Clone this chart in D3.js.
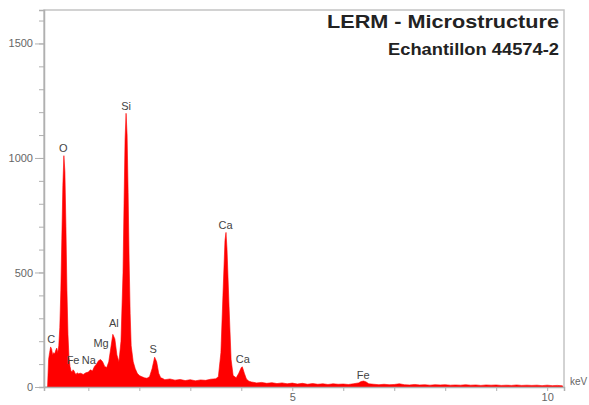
<!DOCTYPE html>
<html>
<head>
<meta charset="utf-8">
<script src="https://cdn.jsdelivr.net/npm/d3@7"></script>
<style>
  body { margin: 0; background: #fff; }
  svg text { font-family: "Liberation Sans", Arial, sans-serif; }
</style>
</head>
<body>
<svg id="chart" width="589" height="405"></svg>
<script>
// spectrum (energy in keV, counts)
const spectrumKeV = [
  0.20, 0.22, 0.24, 0.26, 0.28, 0.30, 0.32, 0.34, 0.36, 0.38,
  0.40, 0.42, 0.44, 0.46, 0.48, 0.50, 0.52, 0.54, 0.56, 0.58,
  0.60, 0.62, 0.64, 0.66, 0.68, 0.70, 0.72, 0.74, 0.76, 0.78,
  0.80, 0.85, 0.90, 0.95, 1.00, 1.04, 1.08, 1.12, 1.16, 1.20,
  1.24, 1.28, 1.32, 1.36, 1.40, 1.44, 1.48, 1.52, 1.56, 1.60,
  1.64, 1.68, 1.70, 1.72, 1.74, 1.76, 1.78, 1.80, 1.82, 1.84,
  1.88, 1.92, 1.96, 2.00, 2.05, 2.10, 2.15, 2.20, 2.25, 2.30,
  2.34, 2.38, 2.42, 2.45, 2.50, 2.60, 2.70, 2.80, 2.90, 3.00,
  3.10, 3.20, 3.30, 3.40, 3.50, 3.55, 3.60, 3.64, 3.68, 3.70,
  3.72, 3.76, 3.80, 3.84, 3.90, 3.95, 4.00, 4.02, 4.06, 4.10,
  4.15, 4.20, 4.30, 4.40, 4.50, 4.60, 4.70, 4.80, 4.90, 5.00,
  5.10, 5.20, 5.30, 5.40, 5.50, 5.60, 5.70, 5.80, 5.90, 6.00,
  6.10, 6.20, 6.30, 6.35, 6.40, 6.45, 6.50, 6.60, 6.70, 6.80,
  6.90, 7.00, 7.10, 7.20, 7.30, 7.40, 7.50, 7.60, 7.70, 7.80,
  7.90, 8.00, 8.10, 8.20, 8.30, 8.40, 8.50, 8.60, 8.70, 8.80,
  8.90, 9.00, 9.10, 9.20, 9.30, 9.40, 9.50, 9.60, 9.70, 9.80,
  9.90, 10.00, 10.10, 10.20, 10.30
];
const spectrumCounts = [
  0, 120, 150, 175, 165, 140, 150, 145, 160, 170,
  150, 180, 260, 420, 650, 880, 1010, 940, 700, 420,
  230, 130, 90, 70, 65, 75, 70, 60, 55, 62,
  58, 60, 55, 62, 65, 75, 70, 90, 100, 115,
  120, 110, 90, 85, 110, 170, 230, 210, 140, 110,
  200, 500, 800, 1080, 1195, 1100, 850, 550, 320, 180,
  110, 80, 60, 50, 45, 40, 38, 45, 80, 130,
  110, 60, 40, 38, 32, 35, 30, 33, 28, 32,
  27, 31, 29, 34, 36, 45, 150, 400, 640, 675,
  600, 350, 120, 50, 40, 60, 85, 88, 60, 35,
  25, 22, 18, 20, 16, 19, 15, 18, 14, 17,
  13, 16, 12, 15, 12, 14, 11, 14, 12, 13,
  11, 14, 18, 24, 26, 22, 14, 12, 10, 12,
  10, 11, 14, 10, 9, 11, 9, 10, 8, 10,
  9, 10, 8, 9, 8, 10, 8, 9, 7, 9,
  8, 9, 7, 8, 7, 9, 7, 8, 7, 8,
  6, 8, 6, 7, 5
];

// peak labels: element, energy (keV), count where the label sits
const peakNames  = ["C", "O", "Fe", "Na", "Mg", "Al", "Si", "S", "Ca", "Ca", "Fe"];
const peakKeV    = [0.27, 0.51, 0.70, 1.01, 1.25, 1.50, 1.74, 2.27, 3.69, 4.03, 6.39];
const peakCounts = [175, 1009, 83, 83, 157, 245, 1192, 131, 672, 87, 17];

const xTickValues = [1, 2, 3, 4, 5, 6, 7, 8, 9, 10];
const xTickLabels = [5, 10];
const yMinorTicks = d3.range(0, 1700, 100);
const yMajorTicks = [0, 500, 1000, 1500];

const svg = d3.select("#chart");
const plot = {left: 44, right: 564, top: 10, bottom: 387};

const x = d3.scaleLinear().domain([0.13, 10.33]).range([plot.left, plot.right]);
const y = d3.scaleLinear().domain([0, 1646]).range([plot.bottom, plot.top]);

const data = spectrumKeV.map((e, i) => ({ e: e, c: spectrumCounts[i] }));

// frame
svg.append("rect")
    .attr("x", plot.left).attr("y", plot.top)
    .attr("width", plot.right - plot.left).attr("height", plot.bottom - plot.top)
    .attr("fill", "none")
    .attr("stroke", "#c4c4c4")
    .attr("stroke-width", 1.5);

// spectrum
let area = d3.area()
    .x(d => x(d.e))
    .y0(y(0))
    .y1(d => y(d.c));

svg.append("path")
    .datum(data)
    .attr("d", area)
    .attr("fill", "#ff0000")
    .attr("stroke", "#ff0000")
    .attr("stroke-width", 0.6);

// x axis
let xAxis = d3.axisBottom(x)
    .tickValues(xTickValues)
    .tickSize(4)
    .tickFormat(d => xTickLabels.includes(d) ? d : "");

let gx = svg.append("g")
    .attr("transform", "translate(0," + plot.bottom + ")")
    .call(xAxis);
gx.select(".domain").attr("stroke", "#b0b0b0").attr("stroke-width", 1.5);
gx.selectAll(".tick line").attr("stroke", "#b0b0b0");
gx.selectAll(".tick text")
    .attr("fill", "#666")
    .attr("font-size", 11)
    .attr("dy", "0.6em");

svg.append("text")
    .attr("x", 570).attr("y", 385)
    .attr("fill", "#666")
    .attr("font-size", 10)
    .text("keV");

// y axis: minor ticks, then major ticks with labels
let gyMinor = svg.append("g")
    .attr("transform", "translate(" + plot.left + ",0)")
    .call(d3.axisLeft(y).tickValues(yMinorTicks).tickSize(5).tickFormat(""));
gyMinor.select(".domain").attr("stroke", "#b0b0b0").attr("stroke-width", 1.5);
gyMinor.selectAll(".tick line").attr("stroke", "#b0b0b0");

let gy = svg.append("g")
    .attr("transform", "translate(" + plot.left + ",0)")
    .call(d3.axisLeft(y).tickValues(yMajorTicks).tickSize(9).tickPadding(2).tickFormat(d3.format("d")));
gy.select(".domain").remove();
gy.selectAll(".tick line").attr("stroke", "#b0b0b0");
gy.selectAll(".tick text")
    .attr("fill", "#666")
    .attr("font-size", 11);

// peak labels
svg.selectAll(".peak")
    .data(peakNames)
    .enter().append("text")
    .attr("class", "peak")
    .attr("x", (d, i) => x(peakKeV[i]))
    .attr("y", (d, i) => y(peakCounts[i]) - 4)
    .attr("text-anchor", "middle")
    .attr("fill", "#444")
    .attr("font-size", 11)
    .text(d => d);

// titles
svg.append("text")
    .attr("x", 559).attr("y", 28)
    .attr("text-anchor", "end")
    .attr("font-size", 19)
    .attr("font-weight", "bold")
    .attr("fill", "#222")
    .attr("textLength", 232)
    .attr("lengthAdjust", "spacingAndGlyphs")
    .text("LERM - Microstructure");

svg.append("text")
    .attr("x", 559).attr("y", 55)
    .attr("text-anchor", "end")
    .attr("font-size", 16)
    .attr("font-weight", "bold")
    .attr("fill", "#222")
    .attr("textLength", 171)
    .attr("lengthAdjust", "spacingAndGlyphs")
    .text("Echantillon 44574-2");
</script>
</body>
</html>
